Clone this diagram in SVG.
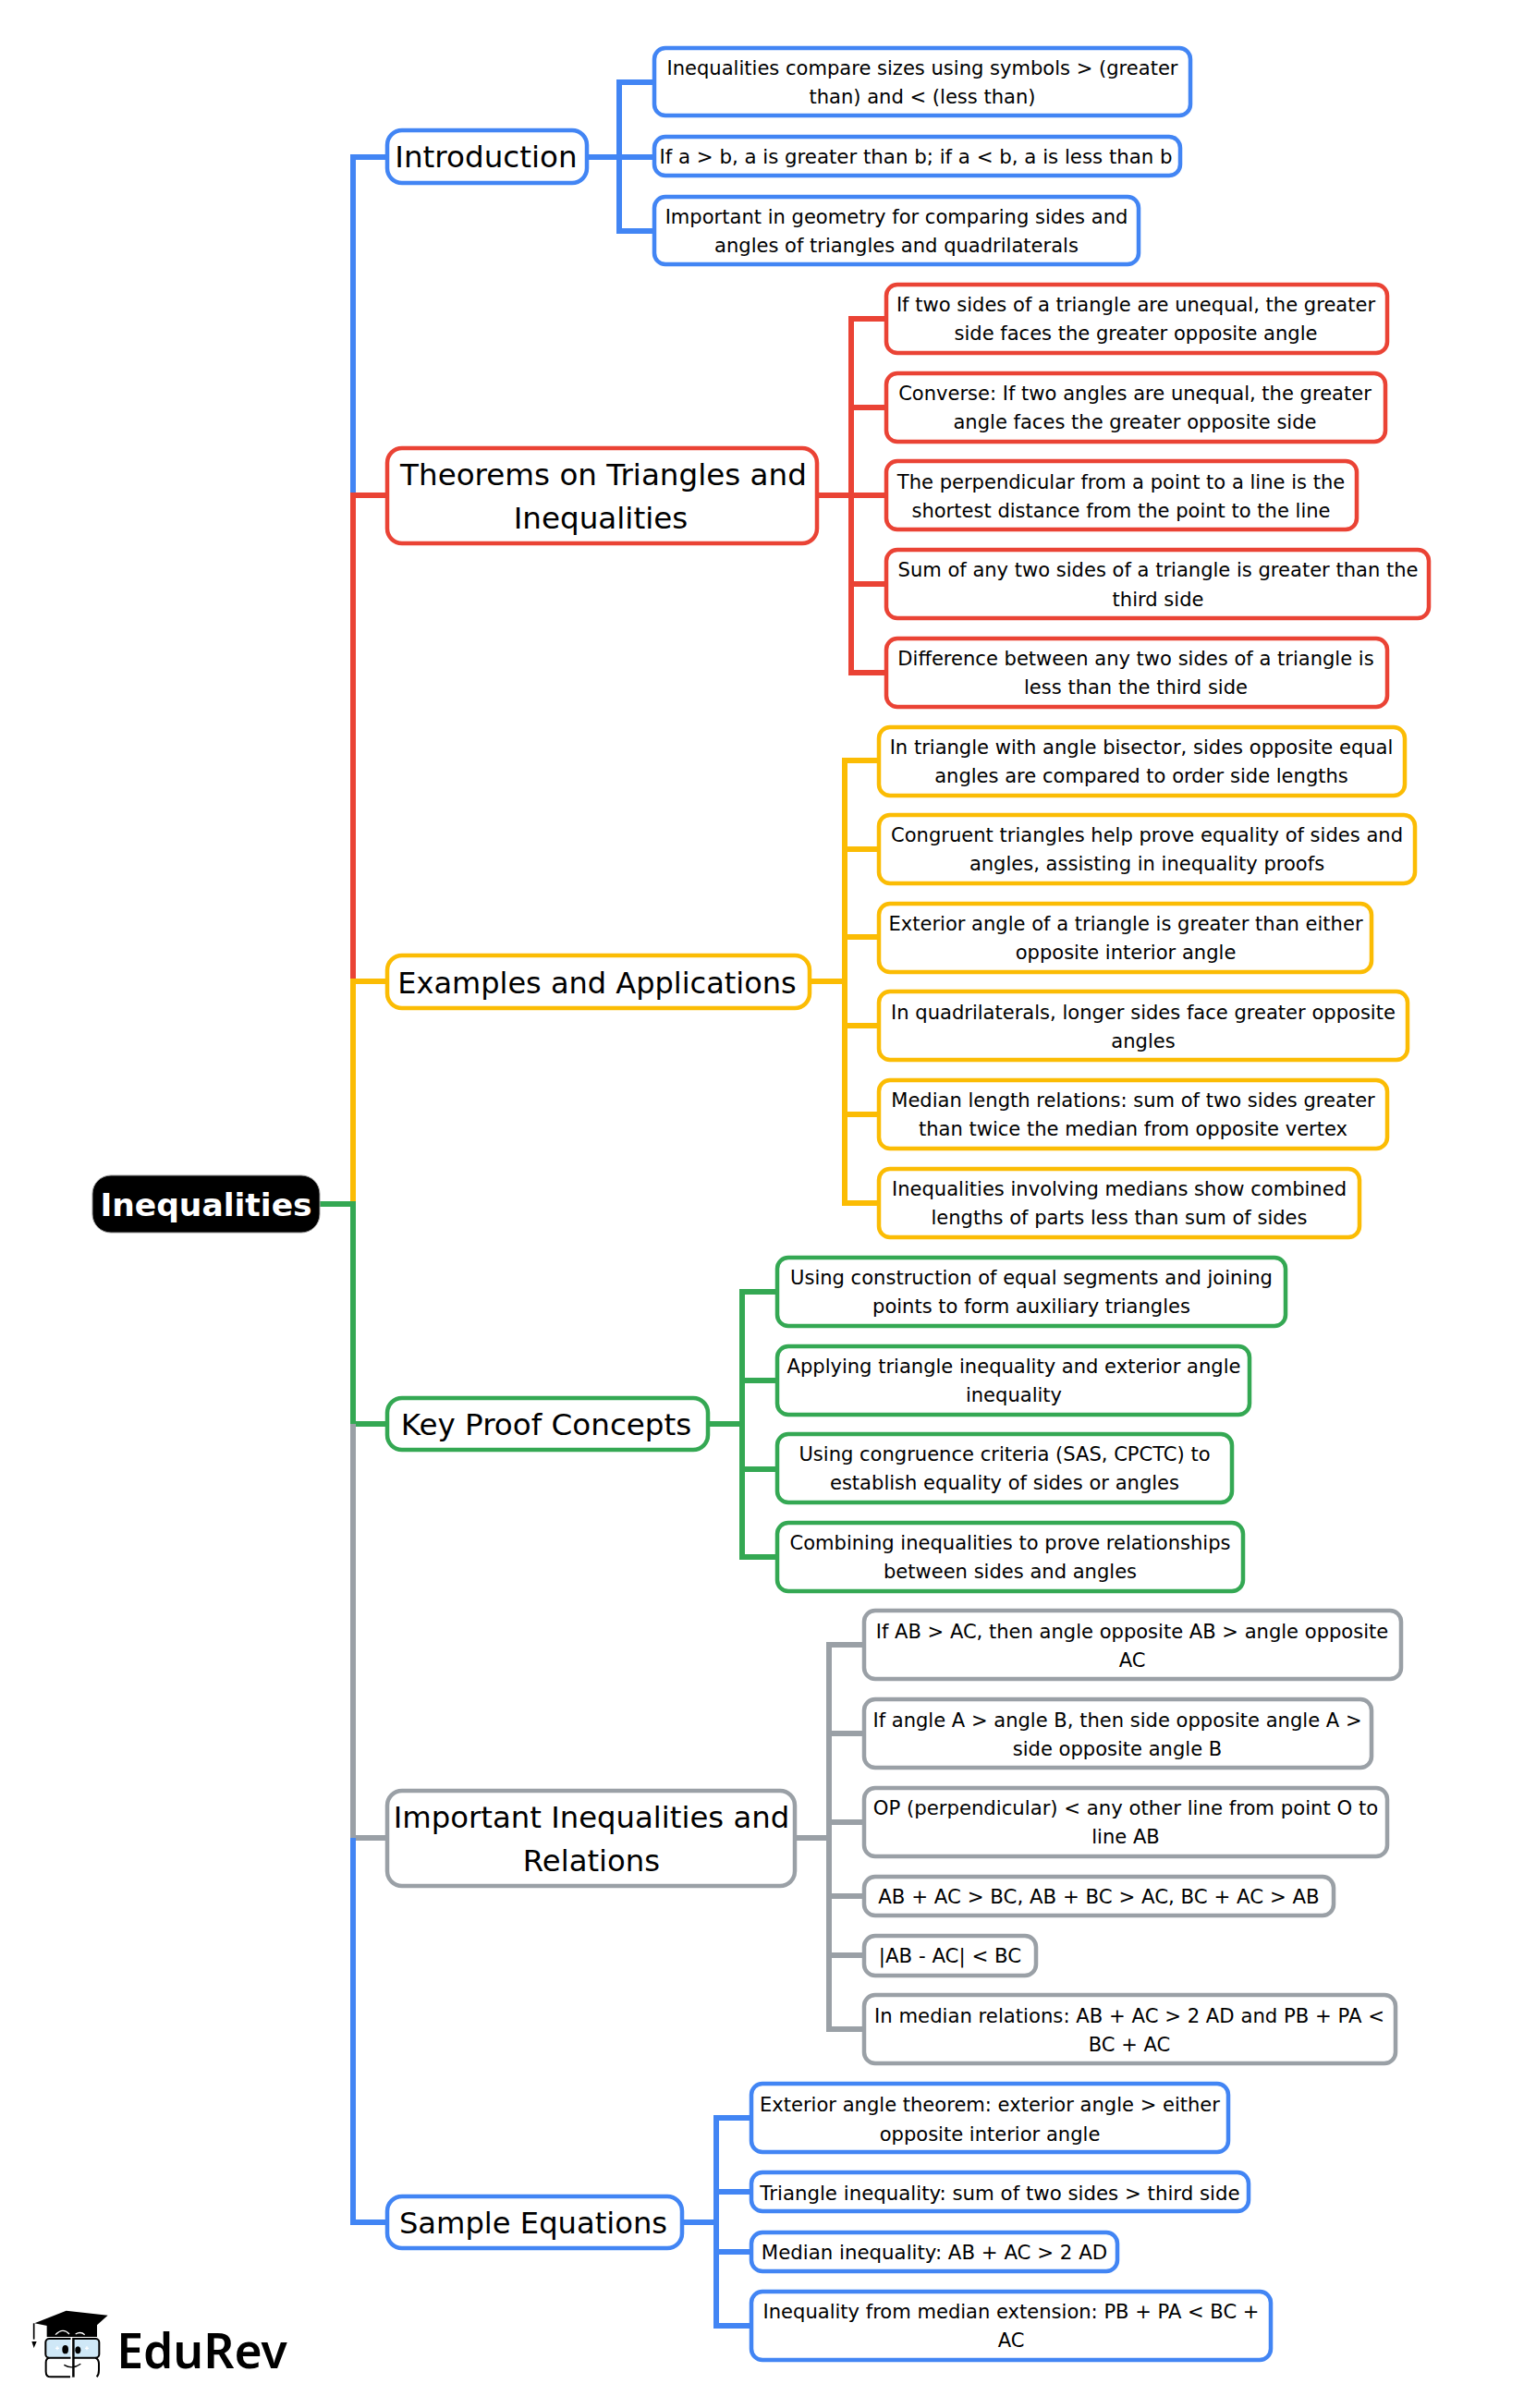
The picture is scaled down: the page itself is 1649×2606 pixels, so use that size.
<svg xmlns="http://www.w3.org/2000/svg" width="1649" height="2606" viewBox="0 0 1649 2606">
<style>
text{font-family:"DejaVu Sans",sans-serif;text-anchor:middle;fill:#000;transform:translateY(.7px)}
.c{font-size:21.05px}.s{font-size:21.3px}.b{font-size:32.6px}
rect{fill:#fff;stroke-width:4.5}
path{fill:none;stroke-linejoin:miter}
.bl rect{stroke:#4285f4}.re rect{stroke:#ea4335}.ye rect{stroke:#fbbc04}.gr rect{stroke:#34a853}.ga rect{stroke:#9aa0a6}
.pbl{stroke:#4285f4}.pre{stroke:#ea4335}.pye{stroke:#fbbc04}.pgr{stroke:#34a853}.pga{stroke:#9aa0a6}
#connectors path{stroke-width:6}
</style>
<g id="connectors">
<path class="pbl" d="M382 536V170H419"/>
<path class="pre" d="M382 1062V536H419"/>
<path class="pye" d="M382 1303V1062H419"/>
<path class="pgr" d="M346 1303H382V1541H419"/>
<path class="pga" d="M382 1541V1989H419"/>
<path class="pbl" d="M382 1989V2405H419"/>
<path class="pbl" d="M635 170H708M708 89H670V250H708"/>
<path class="pre" d="M884 536H921M959 345H921V728H959M921 441H959M921 536H959M921 632H959"/>
<path class="pye" d="M876 1062H914M951 823H914V1302H951M914 919H951M914 1014H951M914 1110H951M914 1206H951"/>
<path class="pgr" d="M766 1541H803M841 1398H803V1685H841M803 1494H841M803 1590H841"/>
<path class="pga" d="M860 1989H897M936 1780H897V2196H936M897 1876H936M897 1972H936M897 2052H936M897 2116H936"/>
<path class="pbl" d="M738 2405H775M813 2292H775V2517H813M775 2372H813M775 2437H813"/>
</g>
<g id="root"><rect x="100" y="1272" width="246" height="62" rx="20" style="fill:#000;stroke:#999;stroke-width:1"/><text x="223" y="1315" font-size="34.5" font-weight="700" style="fill:#fff">Inequalities</text></g>

<g id="n-intro" class="bl"><rect x="419" y="141" width="216" height="57" rx="16"/><text class="b" x="526" y="180">Introduction</text></g>
<g id="n-intro-1" class="bl"><rect x="708" y="52" width="580" height="73" rx="12"/><text class="c" x="998" y="80">Inequalities compare sizes using symbols &gt; (greater</text><text class="c" x="998" y="111">than) and &lt; (less than)</text></g>
<g id="n-intro-2" class="bl"><rect x="708" y="148" width="569" height="42" rx="12"/><text class="s" x="991" y="176">If a &gt; b, a is greater than b; if a &lt; b, a is less than b</text></g>
<g id="n-intro-3" class="bl"><rect x="708" y="213" width="524" height="73" rx="12"/><text class="c" x="970" y="241">Important in geometry for comparing sides and</text><text class="c" x="970" y="272">angles of triangles and quadrilaterals</text></g>

<g id="n-thm" class="re"><rect x="419" y="485" width="465" height="103" rx="16"/><text class="b" x="653" y="524">Theorems on Triangles and</text><text class="b" x="650" y="571">Inequalities</text></g>
<g id="n-thm-1" class="re"><rect x="959" y="308" width="542" height="74" rx="12"/><text class="c" x="1229" y="336">If two sides of a triangle are unequal, the greater</text><text class="c" x="1229" y="367">side faces the greater opposite angle</text></g>
<g id="n-thm-2" class="re"><rect x="959" y="404" width="540" height="74" rx="12"/><text class="c" x="1228" y="432">Converse: If two angles are unequal, the greater</text><text class="c" x="1228" y="463">angle faces the greater opposite side</text></g>
<g id="n-thm-3" class="re"><rect x="959" y="499" width="509" height="74" rx="12"/><text class="c" x="1213" y="528">The perpendicular from a point to a line is the</text><text class="c" x="1213" y="559">shortest distance from the point to the line</text></g>
<g id="n-thm-4" class="re"><rect x="959" y="595" width="587" height="74" rx="12"/><text class="c" x="1253" y="623">Sum of any two sides of a triangle is greater than the</text><text class="c" x="1253" y="655">third side</text></g>
<g id="n-thm-5" class="re"><rect x="959" y="691" width="542" height="74" rx="12"/><text class="c" x="1229" y="719">Difference between any two sides of a triangle is</text><text class="c" x="1229" y="750">less than the third side</text></g>

<g id="n-ex" class="ye"><rect x="419" y="1034" width="457" height="57" rx="16"/><text class="b" x="646" y="1074" style="font-size:32px">Examples and Applications</text></g>
<g id="n-ex-1" class="ye"><rect x="951" y="787" width="569" height="74" rx="12"/><text class="c" x="1235" y="815">In triangle with angle bisector, sides opposite equal</text><text class="c" x="1235" y="846">angles are compared to order side lengths</text></g>
<g id="n-ex-2" class="ye"><rect x="951" y="882" width="580" height="74" rx="12"/><text class="c" x="1241" y="910">Congruent triangles help prove equality of sides and</text><text class="c" x="1241" y="941">angles, assisting in inequality proofs</text></g>
<g id="n-ex-3" class="ye"><rect x="951" y="978" width="533" height="74" rx="12"/><text class="c" x="1218" y="1006">Exterior angle of a triangle is greater than either</text><text class="c" x="1218" y="1037">opposite interior angle</text></g>
<g id="n-ex-4" class="ye"><rect x="951" y="1073" width="572" height="74" rx="12"/><text class="c" x="1237" y="1102">In quadrilaterals, longer sides face greater opposite</text><text class="c" x="1237" y="1133">angles</text></g>
<g id="n-ex-5" class="ye"><rect x="951" y="1169" width="550" height="74" rx="12"/><text class="c" x="1226" y="1197">Median length relations: sum of two sides greater</text><text class="c" x="1226" y="1228">than twice the median from opposite vertex</text></g>
<g id="n-ex-6" class="ye"><rect x="951" y="1265" width="520" height="74" rx="12"/><text class="c" x="1211" y="1293">Inequalities involving medians show combined</text><text class="c" x="1211" y="1324">lengths of parts less than sum of sides</text></g>

<g id="n-key" class="gr"><rect x="419" y="1513" width="347" height="56" rx="16"/><text class="b" x="591" y="1552">Key Proof Concepts</text></g>
<g id="n-key-1" class="gr"><rect x="841" y="1361" width="550" height="74" rx="12"/><text class="c" x="1116" y="1389">Using construction of equal segments and joining</text><text class="c" x="1116" y="1420">points to form auxiliary triangles</text></g>
<g id="n-key-2" class="gr"><rect x="841" y="1457" width="511" height="74" rx="12"/><text class="c" x="1097" y="1485">Applying triangle inequality and exterior angle</text><text class="c" x="1097" y="1516">inequality</text></g>
<g id="n-key-3" class="gr"><rect x="841" y="1552" width="492" height="74" rx="12"/><text class="c" x="1087" y="1580">Using congruence criteria (SAS, CPCTC) to</text><text class="c" x="1087" y="1611">establish equality of sides or angles</text></g>
<g id="n-key-4" class="gr"><rect x="841" y="1648" width="504" height="74" rx="12"/><text class="c" x="1093" y="1676">Combining inequalities to prove relationships</text><text class="c" x="1093" y="1707">between sides and angles</text></g>

<g id="n-imp" class="ga"><rect x="419" y="1938" width="441" height="103" rx="16"/><text class="b" x="640" y="1977" style="font-size:32.3px">Important Inequalities and</text><text class="b" x="640" y="2024" style="font-size:32.3px">Relations</text></g>
<g id="n-imp-1" class="ga"><rect x="935" y="1743" width="581" height="74" rx="12"/><text class="c" x="1225" y="1772">If AB &gt; AC, then angle opposite AB &gt; angle opposite</text><text class="c" x="1225" y="1803">AC</text></g>
<g id="n-imp-2" class="ga"><rect x="935" y="1839" width="549" height="74" rx="12"/><text class="c" x="1209" y="1868">If angle A &gt; angle B, then side opposite angle A &gt;</text><text class="c" x="1209" y="1899">side opposite angle B</text></g>
<g id="n-imp-3" class="ga"><rect x="935" y="1935" width="566" height="74" rx="12"/><text class="c" x="1218" y="1963" style="font-size:21.2px">OP (perpendicular) &lt; any other line from point O to</text><text class="c" x="1218" y="1994">line AB</text></g>
<g id="n-imp-4" class="ga"><rect x="935" y="2031" width="508" height="42" rx="12"/><text class="s" x="1189" y="2059">AB + AC &gt; BC, AB + BC &gt; AC, BC + AC &gt; AB</text></g>
<g id="n-imp-5" class="ga"><rect x="935" y="2095" width="186" height="43" rx="12"/><text class="s" x="1028" y="2123">|AB - AC| &lt; BC</text></g>
<g id="n-imp-6" class="ga"><rect x="935" y="2159" width="575" height="74" rx="12"/><text class="c" x="1222" y="2188" style="font-size:21.2px">In median relations: AB + AC &gt; 2 AD and PB + PA &lt;</text><text class="c" x="1222" y="2219">BC + AC</text></g>

<g id="n-sam" class="bl"><rect x="419" y="2377" width="319" height="56" rx="16"/><text class="b" x="577" y="2416" style="font-size:32.2px">Sample Equations</text></g>
<g id="n-sam-1" class="bl"><rect x="813" y="2255" width="516" height="74" rx="12"/><text class="c" x="1071" y="2284">Exterior angle theorem: exterior angle &gt; either</text><text class="c" x="1071" y="2316">opposite interior angle</text></g>
<g id="n-sam-2" class="bl"><rect x="813" y="2351" width="538" height="42" rx="12"/><text class="s" x="1082" y="2380">Triangle inequality: sum of two sides &gt; third side</text></g>
<g id="n-sam-3" class="bl"><rect x="813" y="2416" width="396" height="42" rx="12"/><text class="s" x="1011" y="2444">Median inequality: AB + AC &gt; 2 AD</text></g>
<g id="n-sam-4" class="bl"><rect x="813" y="2480" width="562" height="74" rx="12"/><text class="c" x="1094" y="2508">Inequality from median extension: PB + PA &lt; BC +</text><text class="c" x="1094" y="2539">AC</text></g>

<g id="logo">
<g transform="translate(0 2380) scale(.3333)">
<path d="M152 410V447H315V405Z" style="fill:#000"/>
<path d="M112 403L215 362L350 377L283 437Z" style="fill:#000"/>
<path d="M110 403V455" style="stroke:#000;stroke-width:5"/>
<path d="M103 462L119 462L110 483Z" style="fill:#000"/>
<path d="M180 440Q205 415 225 438M245 438Q262 428 275 440" style="stroke:#fff;stroke-width:4"/>
<rect x="148" y="453" width="174" height="62" rx="12" style="fill:#cfe8f7;stroke:#000;stroke-width:6"/>
<path d="M228 577H165Q149 577 149 560V530Q149 518 160 515M310 515Q321 520 321 535V555Q321 570 314 577" style="stroke:#000;stroke-width:6"/>
<path d="M237 450V578" style="stroke:#000;stroke-width:10"/><path d="M232 450V578" style="stroke:#fff;stroke-width:5"/>
<ellipse cx="212" cy="488" rx="10" ry="14"/><ellipse cx="253" cy="490" rx="9" ry="12"/>
<path d="M208 538Q235 555 262 535" style="stroke:#000;stroke-width:4"/>
<path d="M180 484H192M186 478V490M276 484H288M282 478V490" style="stroke:#fff;stroke-width:4"/>
</g>
<text x="218.500" y="2562" font-size="51.6" font-weight="600" style="font-family:'Noto Sans',sans-serif">EduRev</text>
</g>
</svg>
